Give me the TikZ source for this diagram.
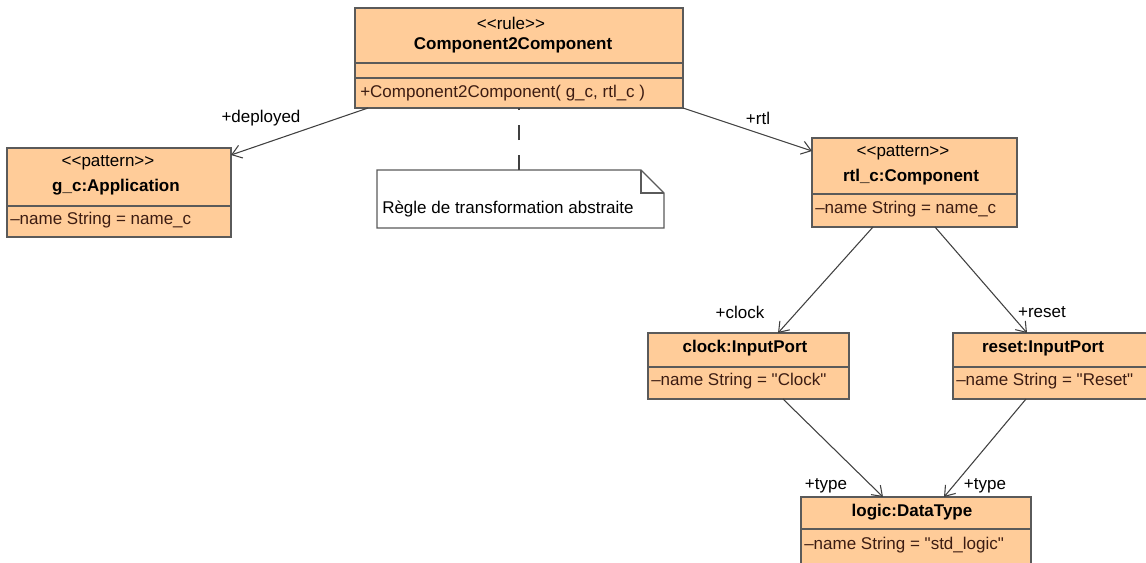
\documentclass[tikz,border=0pt]{standalone}
\usepackage{fontspec}
\setmainfont{Liberation Sans}[Ligatures=TeXOff]
\usetikzlibrary{arrows.meta,calc}
\definecolor{boxfill}{RGB}{255,204,153}
\definecolor{boxline}{RGB}{90,90,90}
\definecolor{attrtxt}{RGB}{60,28,18}
\definecolor{conn}{RGB}{64,64,64}
\begin{document}
\begin{tikzpicture}[x=0.75pt,y=-0.75pt,
  txt/.style={font=\fontsize{12.75}{15}\selectfont, inner sep=0pt},
  ttl/.style={txt, font=\fontsize{12.75}{15}\selectfont\bfseries},
  attr/.style={txt, text=attrtxt, anchor=west},
  box/.style={draw=boxline, fill=boxfill, line width=1.2pt, inner sep=0pt, outer sep=0pt, anchor=north west},
  sepline/.style={draw=boxline, line width=1.2pt},
  assoc/.style={draw=conn, line width=0.8pt, -{Straight Barb[length=7pt,width=10pt,line width=0.8pt]}},
  lbl/.style={txt}
]
\useasboundingbox (0,0) rectangle (1146,562);
\clip (0,0) rectangle (1146,562);

% rule box
\node[box, minimum width=246pt, minimum height=75pt] (cc) at (355,8) {};
\draw[sepline] ($(cc.north west)+(0,55)$) -- ($(cc.north east)+(0,55)$);
\draw[sepline] ($(cc.north west)+(0,70)$) -- ($(cc.north east)+(0,70)$);
\node[txt] (ccst) at (511,23) {<<rule>>};
\node[ttl] (ccnm) at (513,45) {Component2Component};
\node[attr] (ccop) at (360,93) {+Component2Component( g\_c, rtl\_c )};

% note
\node[draw=none, inner sep=0pt, outer sep=0pt, anchor=north west, minimum width=215.25pt, minimum height=43.5pt] (note) at (377,170) {};
\draw[draw=boxline, line width=0.9pt, fill=white] (note.north west) -- ($(note.north east)+(-23,0)$) -- ($(note.north east)+(0,23)$) -- (note.south east) -- (note.south west) -- cycle;
\draw[draw=boxline, line width=0.9pt] ($(note.north east)+(-23,0)$) -- ($(note.north east)+(-23,23)$) -- ($(note.north east)+(0,23)$);
\node[txt, anchor=west] (notetxt) at (382,209) {Règle de transformation abstraite};
\draw[draw=conn, line width=0.8pt, dash pattern=on 11.25pt off 11.25pt] (note.north -| cc.south) -- (cc.south);

% g_c
\node[box, minimum width=168pt, minimum height=66.75pt] (gc) at (7,148) {};
\draw[sepline] ($(gc.north west)+(0,58)$) -- ($(gc.north east)+(0,58)$);
\node[txt] (gcst) at (108,163) {<<pattern>>};
\node[ttl] (gcnm) at (116,187) {g\_c:Application};
\node[attr] (gcat) at (10,220) {\textendash name String = name\_c};

% rtl_c
\node[box, minimum width=153.75pt, minimum height=66.75pt] (rtl) at (812,138) {};
\draw[sepline] ($(rtl.north west)+(0,56)$) -- ($(rtl.north east)+(0,56)$);
\node[txt] (rtlst) at (903,153) {<<pattern>>};
\node[ttl] (rtlnm) at (911,177) {rtl\_c:Component};
\node[attr] (rtlat) at (815,209) {\textendash name String = name\_c};

% clock
\node[box, minimum width=150.75pt, minimum height=49.5pt] (clock) at (648,333) {};
\draw[sepline] ($(clock.north west)+(0,34)$) -- ($(clock.north east)+(0,34)$);
\node[ttl] (clocknm) at (745,348) {clock:InputPort};
\node[attr] (clockat) at (651,381) {\textendash name String = "Clock"};

% reset
\node[box, minimum width=150pt, minimum height=49.5pt] (reset) at (953,333) {};
\draw[sepline] ($(reset.north west)+(0,34)$) -- ($(reset.north east)+(0,34)$);
\node[ttl] (resetnm) at (1043,348) {reset:InputPort};
\node[attr] (resetat) at (956,381) {\textendash name String = "Reset"};

% logic
\node[box, minimum width=172.5pt, minimum height=52.5pt] (logic) at (801,497) {};
\draw[sepline] ($(logic.north west)+(0,32)$) -- ($(logic.north east)+(0,32)$);
\node[ttl] (logicnm) at (912,512) {logic:DataType};
\node[attr] (logicat) at (804,545) {\textendash name String = "std\_logic"};

% connectors
\draw[assoc] ($(cc.south west)+(13,0)$) -- ($(gc.north east)+(0,7)$);
\draw[assoc] (cc.south east) -- ($(rtl.north west)+(0,13)$);
\draw[assoc] ($(rtl.south west)+(61,0)$) -- ($(clock.north west)+(130,0)$);
\draw[assoc] ($(rtl.south west)+(123,0)$) -- ($(reset.north west)+(74,0)$);
\draw[assoc] ($(clock.south west)+(135,0)$) -- ($(logic.north west)+(82,0)$);
\draw[assoc] ($(reset.south west)+(73,0)$) -- ($(logic.north west)+(143,0)$);

% labels
\node[lbl] (ldep) at (261,118) {+deployed};
\node[lbl] (lrtl) at (758,118) {+rtl};
\node[lbl] (lclk) at (740,312) {+clock};
\node[lbl] (lrst) at (1042,312) {+reset};
\node[lbl] (lty1) at (826,486) {+type};
\node[lbl] (lty2) at (985,486) {+type};
\end{tikzpicture}
\end{document}
